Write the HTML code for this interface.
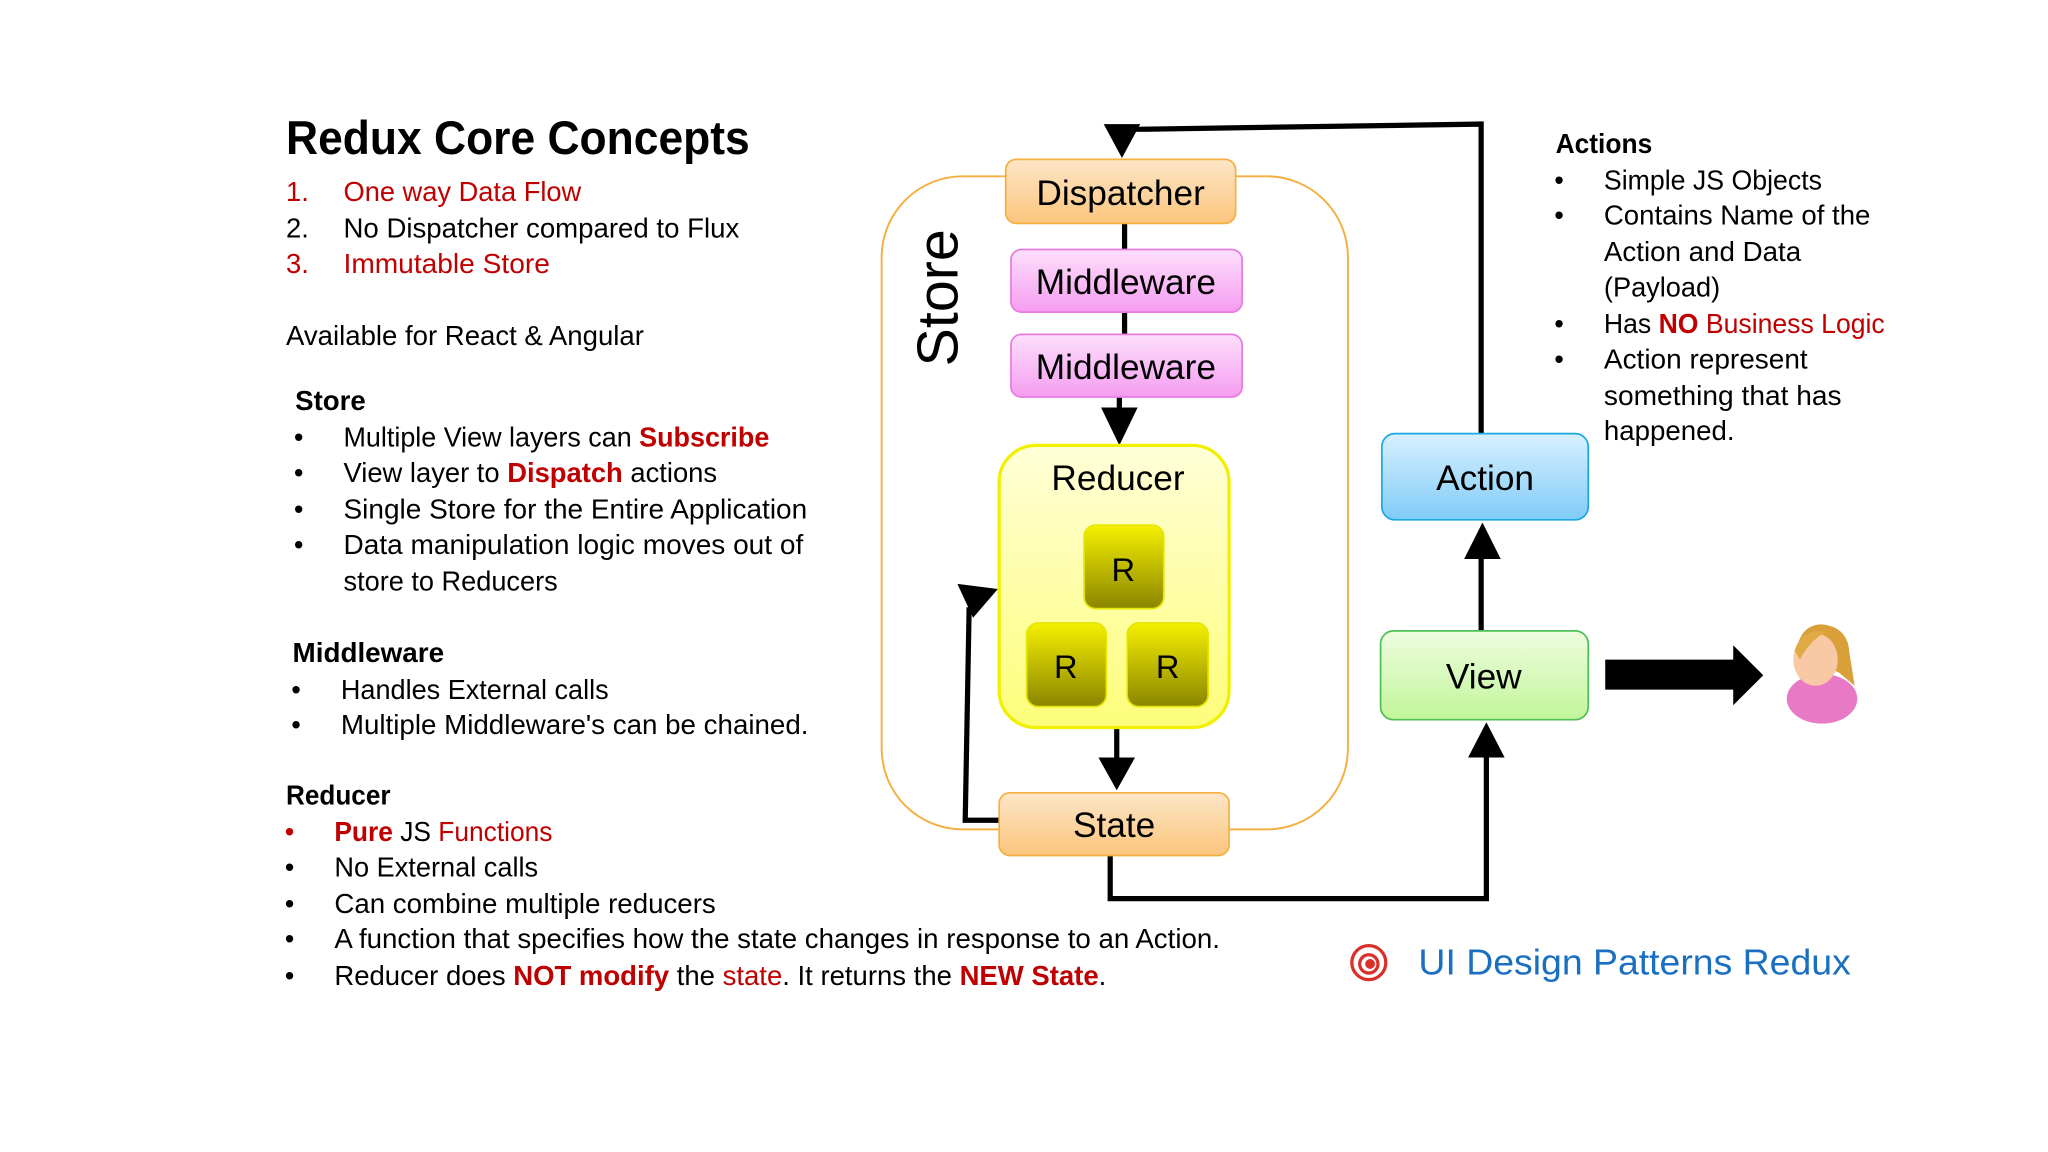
<!DOCTYPE html>
<html><head><meta charset="utf-8"><style>
html,body{margin:0;padding:0;background:#fff;}
svg{display:block}
text{font-family:"Liberation Sans",sans-serif;}
</style></head><body>
<svg width="2048" height="1152" viewBox="0 0 1568 882" xmlns="http://www.w3.org/2000/svg">
<defs>
<linearGradient id="gO" x1="0" y1="0" x2="0" y2="1"><stop offset="0" stop-color="#fde6c8"/><stop offset="1" stop-color="#fbc57c"/></linearGradient>
<linearGradient id="gP" x1="0" y1="0" x2="0" y2="1"><stop offset="0" stop-color="#fde0fc"/><stop offset="1" stop-color="#f59cf0"/></linearGradient>
<linearGradient id="gY" x1="0" y1="0" x2="0" y2="1"><stop offset="0" stop-color="#ffffd8"/><stop offset="1" stop-color="#fdfd7a"/></linearGradient>
<linearGradient id="gR" x1="0" y1="0" x2="0" y2="1"><stop offset="0" stop-color="#f5f000"/><stop offset="1" stop-color="#8a8500"/></linearGradient>
<linearGradient id="gB" x1="0" y1="0" x2="0" y2="1"><stop offset="0" stop-color="#d8f0ff"/><stop offset="1" stop-color="#80ccf8"/></linearGradient>
<linearGradient id="gG" x1="0" y1="0" x2="0" y2="1"><stop offset="0" stop-color="#eefde0"/><stop offset="1" stop-color="#c2f59a"/></linearGradient>
</defs>
<rect width="1568" height="882" fill="#fff"/>

<!-- left text -->
<text x="219" y="118" font-size="36" font-weight="bold" textLength="355" lengthAdjust="spacingAndGlyphs">Redux Core Concepts</text>
<g font-size="21">
<text x="219" y="154" fill="#c00000">1.</text><text x="263" y="154" fill="#c00000" textLength="182" lengthAdjust="spacingAndGlyphs">One way Data Flow</text>
<text x="219" y="182">2.</text><text x="263" y="182" textLength="303" lengthAdjust="spacingAndGlyphs">No Dispatcher compared to Flux</text>
<text x="219" y="209" fill="#c00000">3.</text><text x="263" y="209" fill="#c00000" textLength="158" lengthAdjust="spacingAndGlyphs">Immutable Store</text>
<text x="219" y="264" textLength="274" lengthAdjust="spacingAndGlyphs">Available for React &amp; Angular</text>
<text x="226" y="314" font-weight="bold" textLength="54" lengthAdjust="spacingAndGlyphs">Store</text>
<g><text x="225" y="342">•</text><text x="225" y="369">•</text><text x="225" y="397">•</text><text x="225" y="424">•</text></g>
<text x="263" y="342" textLength="326" lengthAdjust="spacingAndGlyphs">Multiple View layers can <tspan fill="#c00000" font-weight="bold">Subscribe</tspan></text>
<text x="263" y="369" textLength="286" lengthAdjust="spacingAndGlyphs">View layer to <tspan fill="#c00000" font-weight="bold">Dispatch</tspan> actions</text>
<text x="263" y="397" textLength="355" lengthAdjust="spacingAndGlyphs">Single Store for the Entire Application</text>
<text x="263" y="424" textLength="352" lengthAdjust="spacingAndGlyphs">Data manipulation logic moves out of</text>
<text x="263" y="452" textLength="164" lengthAdjust="spacingAndGlyphs">store to Reducers</text>
<text x="224" y="507" font-weight="bold" textLength="116" lengthAdjust="spacingAndGlyphs">Middleware</text>
<text x="223" y="535">•</text><text x="223" y="562">•</text>
<text x="261" y="535" textLength="205" lengthAdjust="spacingAndGlyphs">Handles External calls</text>
<text x="261" y="562" textLength="358" lengthAdjust="spacingAndGlyphs">Multiple Middleware's can be chained.</text>
<text x="219" y="616" font-weight="bold" textLength="80" lengthAdjust="spacingAndGlyphs">Reducer</text>
<text x="218" y="644" fill="#c00000">•</text><text x="218" y="671">•</text><text x="218" y="699">•</text><text x="218" y="726">•</text><text x="218" y="754">•</text>
<text x="256" y="644" textLength="167" lengthAdjust="spacingAndGlyphs"><tspan fill="#c00000" font-weight="bold">Pure</tspan> JS <tspan fill="#c00000">Functions</tspan></text>
<text x="256" y="671" textLength="156" lengthAdjust="spacingAndGlyphs">No External calls</text>
<text x="256" y="699" textLength="292" lengthAdjust="spacingAndGlyphs">Can combine multiple reducers</text>
<text x="256" y="726" textLength="678" lengthAdjust="spacingAndGlyphs">A function that specifies how the state changes in response to an Action.</text>
<text x="256" y="754" textLength="591" lengthAdjust="spacingAndGlyphs">Reducer does <tspan fill="#c00000" font-weight="bold">NOT modify</tspan> the <tspan fill="#c00000">state</tspan>. It returns the <tspan fill="#c00000" font-weight="bold">NEW State</tspan>.</text>
</g>

<!-- right text -->
<g font-size="21">
<text x="1191" y="117" font-weight="bold" textLength="74" lengthAdjust="spacingAndGlyphs">Actions</text>
<text x="1190" y="145">•</text><text x="1190" y="172">•</text><text x="1190" y="255">•</text><text x="1190" y="282">•</text>
<text x="1228" y="145" textLength="167" lengthAdjust="spacingAndGlyphs">Simple JS Objects</text>
<text x="1228" y="172" textLength="204" lengthAdjust="spacingAndGlyphs">Contains Name of the</text>
<text x="1228" y="200" textLength="151" lengthAdjust="spacingAndGlyphs">Action and Data</text>
<text x="1228" y="227" textLength="89" lengthAdjust="spacingAndGlyphs">(Payload)</text>
<text x="1228" y="255" textLength="215" lengthAdjust="spacingAndGlyphs">Has <tspan fill="#c00000" font-weight="bold">NO</tspan><tspan fill="#c00000"> Business Logic</tspan></text>
<text x="1228" y="282" textLength="156" lengthAdjust="spacingAndGlyphs">Action represent</text>
<text x="1228" y="310" textLength="182" lengthAdjust="spacingAndGlyphs">something that has</text>
<text x="1228" y="337" textLength="100" lengthAdjust="spacingAndGlyphs">happened.</text>
</g>

<!-- store container -->
<rect x="675" y="135" width="357" height="500" rx="62" fill="none" stroke="#f4b042" stroke-width="1.5"/>
<text transform="translate(733,228) rotate(-90)" font-size="44" text-anchor="middle">Store</text>

<!-- connectors -->
<g stroke="#000" stroke-width="4" fill="none">
<line x1="861" y1="171" x2="861" y2="191"/>
<line x1="861" y1="239" x2="861" y2="256"/>
<line x1="857" y1="304" x2="857" y2="315"/>
<line x1="855" y1="557" x2="855" y2="580"/>
<polyline points="765,628 739,628 742,465"/>
<polyline points="1134,333 1134,95 870,99"/>
<line x1="1134" y1="483" x2="1134" y2="426"/>
<polyline points="850,655 850,688 1138,688 1138,578"/>
</g>
<g fill="#000">
<polygon points="843,312 871,312 857,341"/>
<polygon points="841,580 869,580 855,605"/>
<polygon points="733,447 764,451 745,473"/>
<polygon points="845,95 873,95 859,121"/>
<polygon points="1121,428 1149,428 1135,400"/>
<polygon points="1124,580 1152,580 1138,553"/>
<polygon points="1229,505 1327,505 1327,494 1350,517 1327,540 1327,528 1229,528"/>
</g>

<!-- boxes -->
<g stroke-width="1.3">
<rect x="770" y="122" width="176" height="49" rx="8" fill="url(#gO)" stroke="#f4b042"/>
<rect x="774" y="191" width="177" height="48" rx="8" fill="url(#gP)" stroke="#e67ae0"/>
<rect x="774" y="256" width="177" height="48" rx="8" fill="url(#gP)" stroke="#e67ae0"/>
<rect x="765" y="341" width="176" height="216" rx="28" fill="url(#gY)" stroke="#f0f000" stroke-width="2.5"/>
<rect x="830" y="402" width="61" height="64" rx="9" fill="url(#gR)" stroke="#e5e500"/>
<rect x="786" y="477" width="61" height="64" rx="9" fill="url(#gR)" stroke="#e5e500"/>
<rect x="863" y="477" width="62" height="64" rx="9" fill="url(#gR)" stroke="#e5e500"/>
<rect x="765" y="607" width="176" height="48" rx="8" fill="url(#gO)" stroke="#f4b042"/>
<rect x="1058" y="332" width="158" height="66" rx="10" fill="url(#gB)" stroke="#1aa8e0"/>
<rect x="1057" y="483" width="159" height="68" rx="10" fill="url(#gG)" stroke="#4cbf56"/>
</g>
<g font-size="27" text-anchor="middle">
<text x="858" y="157">Dispatcher</text>
<text x="862" y="225">Middleware</text>
<text x="862" y="290">Middleware</text>
<text x="856" y="375">Reducer</text>
<text x="860" y="445" font-size="25">R</text>
<text x="816" y="519" font-size="25">R</text>
<text x="894" y="519" font-size="25">R</text>
<text x="853" y="641">State</text>
<text x="1137" y="375">Action</text>
<text x="1136" y="527">View</text>
</g>

<!-- person -->
<g>
<ellipse cx="1395" cy="535" rx="27" ry="19" fill="#e879c4"/>
<path d="M1375 500 Q1378 478 1395 478 Q1415 480 1416 500 L1420 525 L1408 515 Z" fill="#d9a03a"/>
<ellipse cx="1390" cy="505" rx="17" ry="20" fill="#f9c9a6"/>
<path d="M1374 498 Q1380 480 1398 484 Q1386 490 1378 505 Z" fill="#e0aa44"/>
</g>

<!-- logo -->
<g fill="none" stroke="#d9302a" stroke-width="2.5">
<circle cx="1048" cy="737" r="13"/>
<circle cx="1048" cy="738" r="7"/>
<circle cx="1049" cy="738" r="2.5" fill="#d9302a"/>
</g>
<text x="1086" y="746" font-size="28" fill="#1a6fc0" textLength="331" lengthAdjust="spacingAndGlyphs">UI Design Patterns Redux</text>
</svg>
</body></html>
